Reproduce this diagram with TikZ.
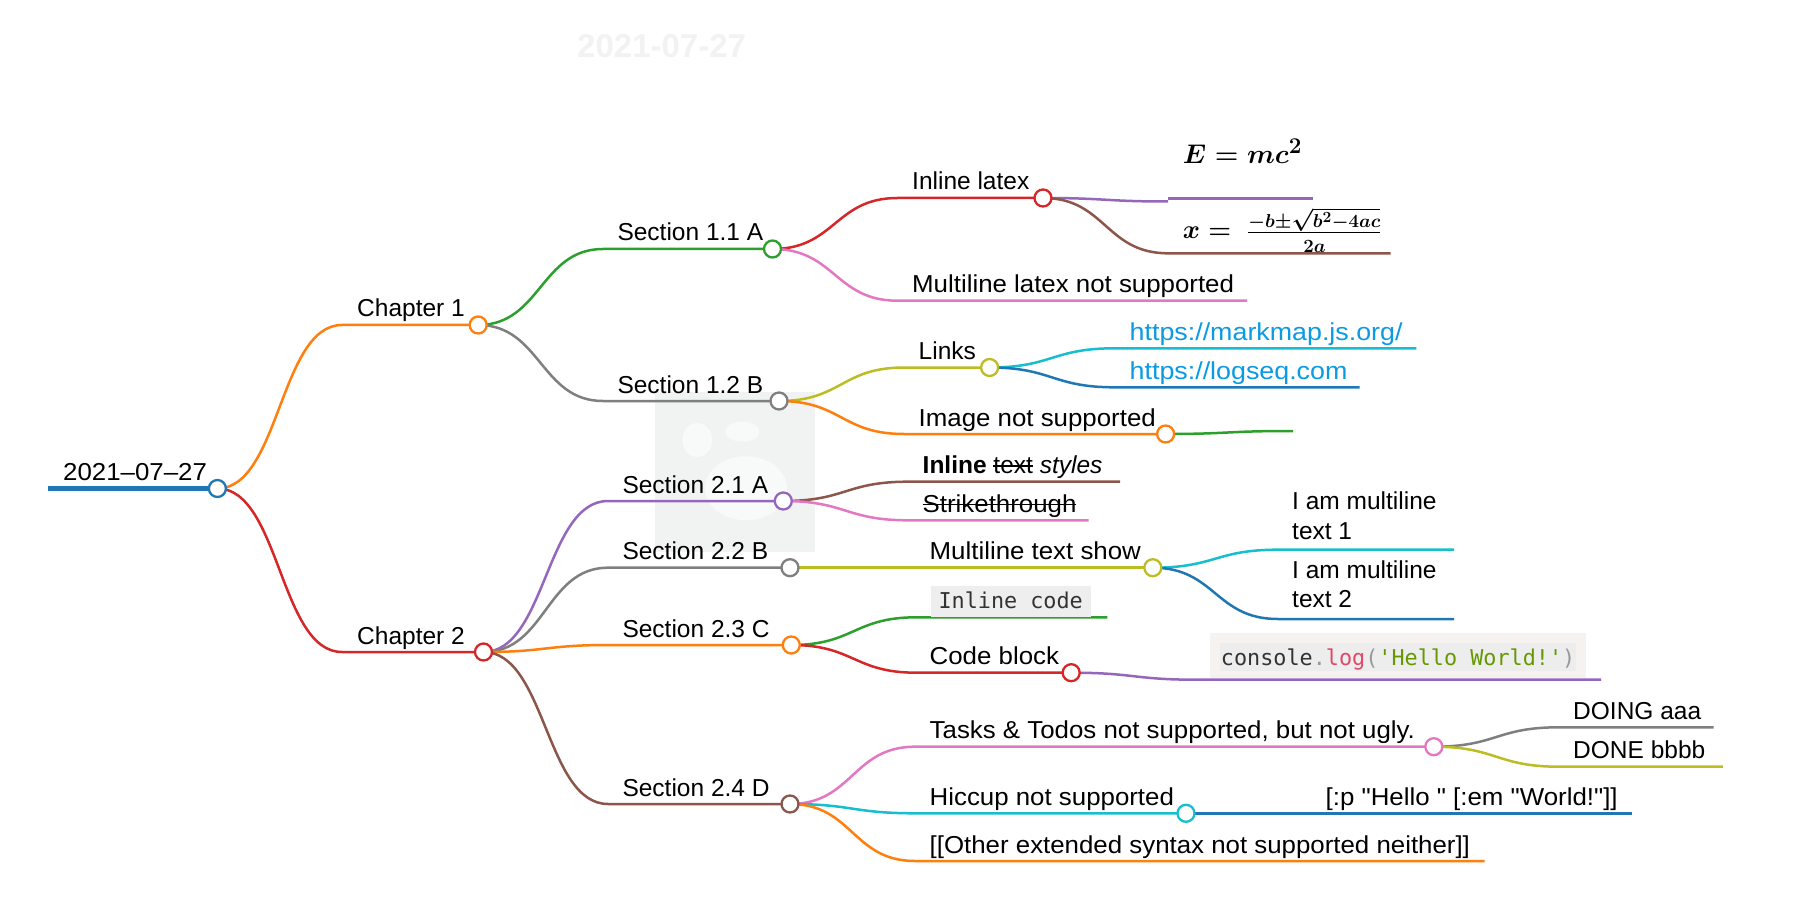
\documentclass[tikz,border=0pt]{standalone}
\usepackage{amsmath}
\usepackage{graphicx}
\usepackage[no-math]{fontspec}
\setmainfont{Liberation Sans}
\setmonofont{DejaVu Sans Mono}
\newfontfamily\wideA[FakeStretch=1.055]{Liberation Sans}
\newfontfamily\wideB[FakeStretch=1.095]{Liberation Sans}
\usetikzlibrary{calc}
\newsavebox\strkbox
\newcommand{\strk}[1]{\sbox\strkbox{#1}\rlap{\rule[0.28em]{\wd\strkbox}{0.07em}}\usebox\strkbox}
\newsavebox\emcbox
\newsavebox\quadbox
\definecolor{mblue}{HTML}{1F77B4}
\definecolor{morange}{HTML}{FF7F0E}
\definecolor{mgreen}{HTML}{2CA02C}
\definecolor{mred}{HTML}{D62728}
\definecolor{mpurple}{HTML}{9467BD}
\definecolor{mbrown}{HTML}{8C564B}
\definecolor{mpink}{HTML}{E377C2}
\definecolor{mgray}{HTML}{7F7F7F}
\definecolor{molive}{HTML}{BCBD22}
\definecolor{mcyan}{HTML}{17BECF}
\definecolor{urlblue}{HTML}{0B9BE3}
\definecolor{codebg}{HTML}{F5F2F0}
\definecolor{codeinner}{HTML}{EDEDED}
\definecolor{inlinebg}{HTML}{EEEEEE}
\definecolor{codetxt}{HTML}{333333}
\definecolor{codepunct}{HTML}{999999}
\definecolor{codefn}{HTML}{DD4A68}
\definecolor{codestr}{HTML}{669900}
\definecolor{imgbg}{HTML}{F1F3F3}
\definecolor{imgblob}{HTML}{F8FAFA}
\tikzset{
  ln/.style={draw=#1, line width=2.5pt},
  dot/.style={circle, draw=#1, fill=white, line width=2.3pt, minimum size=17pt, inner sep=0pt},
  txt/.style={anchor=base west, inner sep=0pt, font=\fontsize{24.5}{29.5}\selectfont},
  txtw/.style={anchor=base west, inner sep=0pt, font=\wideA\fontsize{24.5}{29.5}\selectfont},
  txtu/.style={anchor=base west, inner sep=0pt, font=\wideB\fontsize{24.5}{29.5}\selectfont},
  plain/.style={anchor=base west, inner sep=0pt},
  link/.style={to path={let \p1=(\tikztostart), \p2=(\tikztotarget) in
      .. controls ({(\x1+\x2)/2},\y1) and ({(\x1+\x2)/2},\y2) .. (\tikztotarget)}},
  codefont/.style={anchor=base west, inner sep=0pt, font=\ttfamily\fontsize{21.8}{26}\selectfont}
}
\begin{document}
\sbox\emcbox{\scalebox{1.085}{\fontsize{24.88}{30}\selectfont\boldmath$E = mc^2$}}%
\sbox\quadbox{\fontsize{24.88}{30}\selectfont\boldmath\scalebox{1.05}{$x =$}\hspace{16pt}\scalebox{0.9}{$\frac{-b\pm\sqrt{b^2-4ac}}{\rule{0pt}{20pt}2a}$}}%
\begin{tikzpicture}[x=1pt,y=-1pt]
\useasboundingbox (0,0) rectangle (1794,917);
\fill[white] (0,0) rectangle (1794,917);

% faint background (image placeholder and title)
\fill[imgbg] (655,392) rectangle (815,552);
\fill[imgblob] (697.3,440) ellipse [x radius=15, y radius=17];
\fill[imgblob] (742.3,431.7) ellipse [x radius=17, y radius=10];
\fill[imgblob] (746,488.3) ellipse [x radius=41, y radius=32];
\node[plain, font=\bfseries\fontsize{33}{40}\selectfont, text=black!5] (ghost) at (577,58) {2021-07-27};

% coordinates: node starts and circle / end points
\coordinate (rs) at (48,488.5);   \coordinate (root) at (217.4,488.5);
\coordinate (c1s) at (342,325);   \coordinate (c1) at (478.2,325);
\coordinate (c2s) at (342,652);   \coordinate (c2) at (483.5,652);
\coordinate (s11s) at (603,249);  \coordinate (s11) at (772.5,249);
\coordinate (s12s) at (603,401);  \coordinate (s12) at (779,401);
\coordinate (s21s) at (608,501);  \coordinate (s21) at (783.3,501);
\coordinate (s22s) at (608,567.7);\coordinate (s22) at (790,567.7);
\coordinate (s23s) at (608,645);  \coordinate (s23) at (791.3,645);
\coordinate (s24s) at (608,804);  \coordinate (s24) at (790,804);
\coordinate (ils) at (897.5,198); \coordinate (il) at (1043,198);
\coordinate (mls) at (897.5,300.7); \coordinate (mle) at (1247,300.7);
\coordinate (lks) at (904,367.5); \coordinate (lk) at (989.6,367.5);
\coordinate (ims) at (904,434);   \coordinate (im) at (1165.6,434);
\coordinate (emcs) at (1168,201.5); \coordinate (emca) at (1168,198.3); \coordinate (emcb) at (1313,198.3);
\coordinate (frms) at (1168,253.3); \coordinate (frme) at (1390.7,253.3);
\coordinate (mks) at (1114.5,348.3); \coordinate (mke) at (1416.3,348.3);
\coordinate (lgs) at (1114.5,387.3); \coordinate (lge) at (1359.7,387.3);
\coordinate (igs) at (1290,431);  \coordinate (ige) at (1293,431);
\coordinate (itss) at (908,481.7); \coordinate (itse) at (1120,481.7);
\coordinate (sts) at (908,520.3); \coordinate (ste) at (1088.7,520.3);
\coordinate (mtss) at (915,567.7); \coordinate (mts) at (1152.8,567.7);
\coordinate (t1s) at (1277.8,549.7); \coordinate (t1e) at (1454.2,549.7);
\coordinate (t2s) at (1277.8,619); \coordinate (t2e) at (1454.2,619);
\coordinate (ics) at (916.3,617.3); \coordinate (ice) at (1107.3,617.3);
\coordinate (cbs) at (916.3,672.7); \coordinate (cb) at (1071.2,672.7);
\coordinate (cls) at (1196,679.7); \coordinate (cle) at (1601,679.7);
\coordinate (tks) at (915,746.7); \coordinate (tk) at (1433.8,746.7);
\coordinate (hcs) at (915,813.3); \coordinate (hc) at (1186,813.3);
\coordinate (ots) at (915,861);   \coordinate (ote) at (1484.5,861);
\coordinate (dgs) at (1558.8,727.3); \coordinate (dge) at (1713.6,727.3);
\coordinate (dns) at (1558.8,766.7); \coordinate (dne) at (1722.9,766.7);
\coordinate (hps) at (1311,813.3); \coordinate (hpe) at (1632,813.3);

% connectors
\draw[ln=mblue, line width=5.5pt] (rs) -- (root);
\draw[ln=morange] (root) to[link] (c1s) -- (c1);
\draw[ln=mred] (root) to[link] (c2s) -- (c2);
\draw[ln=mgreen] (c1) to[link] (s11s) -- (s11);
\draw[ln=mgray] (c1) to[link] (s12s) -- (s12);
\draw[ln=mpurple] (c2) to[link] (s21s) -- (s21);
\draw[ln=mgray] (c2) to[link] (s22s) -- (s22);
\draw[ln=morange] (c2) to[link] (s23s) -- (s23);
\draw[ln=mbrown] (c2) to[link] (s24s) -- (s24);
\draw[ln=mred] (s11) to[link] (ils) -- (il);
\draw[ln=mpink] (s11) to[link] (mls) -- (mle);
\draw[ln=molive] (s12) to[link] (lks) -- (lk);
\draw[ln=morange] (s12) to[link] (ims) -- (im);
\draw[ln=mpurple] (il) to[link] (emcs);
\draw[ln=mpurple] (emca) -- (emcb);
\draw[ln=mbrown] (il) to[link] (frms) -- (frme);
\draw[ln=mcyan] (lk) to[link] (mks) -- (mke);
\draw[ln=mblue] (lk) to[link] (lgs) -- (lge);
\draw[ln=mgreen] (im) to[link] (igs) -- (ige);
\draw[ln=mbrown] (s21) to[link] (itss) -- (itse);
\draw[ln=mpink] (s21) to[link] (sts) -- (ste);
\draw[ln=molive] (s22) to[link] (mtss) -- (mts);
\draw[ln=mcyan] (mts) to[link] (t1s) -- (t1e);
\draw[ln=mblue] (mts) to[link] (t2s) -- (t2e);
\draw[ln=mgreen] (s23) to[link] (ics) -- (ice);
\draw[ln=mred] (s23) to[link] (cbs) -- (cb);
\draw[ln=mpurple] (cb) to[link] (cls) -- (cle);
\draw[ln=mpink] (s24) to[link] (tks) -- (tk);
\draw[ln=mcyan] (s24) to[link] (hcs) -- (hc);
\draw[ln=morange] (s24) to[link] (ots) -- (ote);
\draw[ln=mgray] (tk) to[link] (dgs) -- (dge);
\draw[ln=molive] (tk) to[link] (dns) -- (dne);
\draw[ln=mblue] (hc) to[link] (hps) -- (hpe);

% circles
\node[dot=mblue] (rootdot) at (root) {};
\node[dot=morange] (c1dot) at (c1) {};
\node[dot=mred] (c2dot) at (c2) {};
\node[dot=mgreen] (s11dot) at (s11) {};
\node[dot=mgray] (s12dot) at (s12) {};
\node[dot=mpurple] (s21dot) at (s21) {};
\node[dot=mgray] (s22dot) at (s22) {};
\node[dot=morange] (s23dot) at (s23) {};
\node[dot=mbrown] (s24dot) at (s24) {};
\node[dot=mred] (ildot) at (il) {};
\node[dot=molive] (lkdot) at (lk) {};
\node[dot=morange] (imdot) at (im) {};
\node[dot=molive] (mtsdot) at (mts) {};
\node[dot=mred] (cbdot) at (cb) {};
\node[dot=mpink] (tkdot) at (tk) {};
\node[dot=mcyan] (hcdot) at (hc) {};

% texts
\node[txtw] (roott) at (63,480) {2021–07–27};
\node[txt] (c1t) at (357,317) {Chapter 1};
\node[txt] (c2t) at (357,644) {Chapter 2};
\node[txt] (s11t) at (617.3,241) {Section 1.1 A};
\node[txt] (s12t) at (617.3,393) {Section 1.2 B};
\node[txt] (s21t) at (622.3,493) {Section 2.1 A};
\node[txt] (s22t) at (622.3,559.7) {Section 2.2 B};
\node[txt] (s23t) at (622.3,637) {Section 2.3 C};
\node[txt] (s24t) at (622.3,796) {Section 2.4 D};
\node[txt] (ilt) at (912,190) {Inline latex};
\node[txtw] (mlt) at (912,292.7) {Multiline latex not supported};
\node[txt] (lkt) at (918.5,359.5) {Links};
\node[txtw] (imt) at (918.5,426) {Image not supported};
\node[plain] (emct) at (1182.7,163.3) {\usebox\emcbox};
\node[plain] (frmt) at (1182.7,238.3) {\usebox\quadbox};
\node[txtu, text=urlblue] (mkt) at (1129.5,340.3) {https://markmap.js.org/};
\node[txtu, text=urlblue] (lgt) at (1129.5,379.3) {https://logseq.com};
\node[txt] (itst) at (922.5,473.7) {\textbf{Inline} \strk{text} \textit{styles}};
\node[txtw] (stt) at (922.5,512.3) {\strk{Strikethrough}};
\node[txtw] (mtst) at (929.5,559.7) {Multiline text show};
\node[txt, align=left] (t1t) at (1292,539) {I am multiline\\text 1};
\node[txt, align=left] (t2t) at (1292,607.7) {I am multiline\\text 2};
\fill[inlinebg] (931,586) rectangle (1090.7,616.5);
\node[codefont, text=codetxt] (ict) at (938.3,608.3) {Inline code};
\node[txtw] (cbt) at (929.5,664.7) {Code block};
\fill[codebg] (1210,633.3) rectangle (1585.7,678);
\fill[codeinner] (1220,643.3) rectangle (1575.7,670.7);
\node[codefont] (clt) at (1220.7,665) {\textcolor{codetxt}{console}\textcolor{codepunct}{.}\textcolor{codefn}{log}\textcolor{codepunct}{(}\textcolor{codestr}{'Hello World!'}\textcolor{codepunct}{)}};
\node[txtw] (tkt) at (929.5,738.7) {Tasks \& Todos not supported, but not ugly.};
\node[txtw] (hct) at (929.5,805.3) {Hiccup not supported};
\node[txtw] (ott) at (929.5,853) {[[Other extended syntax not supported neither]]};
\node[txt] (dgt) at (1573,719.3) {DOING aaa};
\node[txt] (dnt) at (1573,758.7) {DONE bbbb};
\node[txtw] (hpt) at (1325.5,805.3) {[:p \symbol{34}Hello \symbol{34} [:em \symbol{34}World!\symbol{34}]]};
\end{tikzpicture}
\end{document}
